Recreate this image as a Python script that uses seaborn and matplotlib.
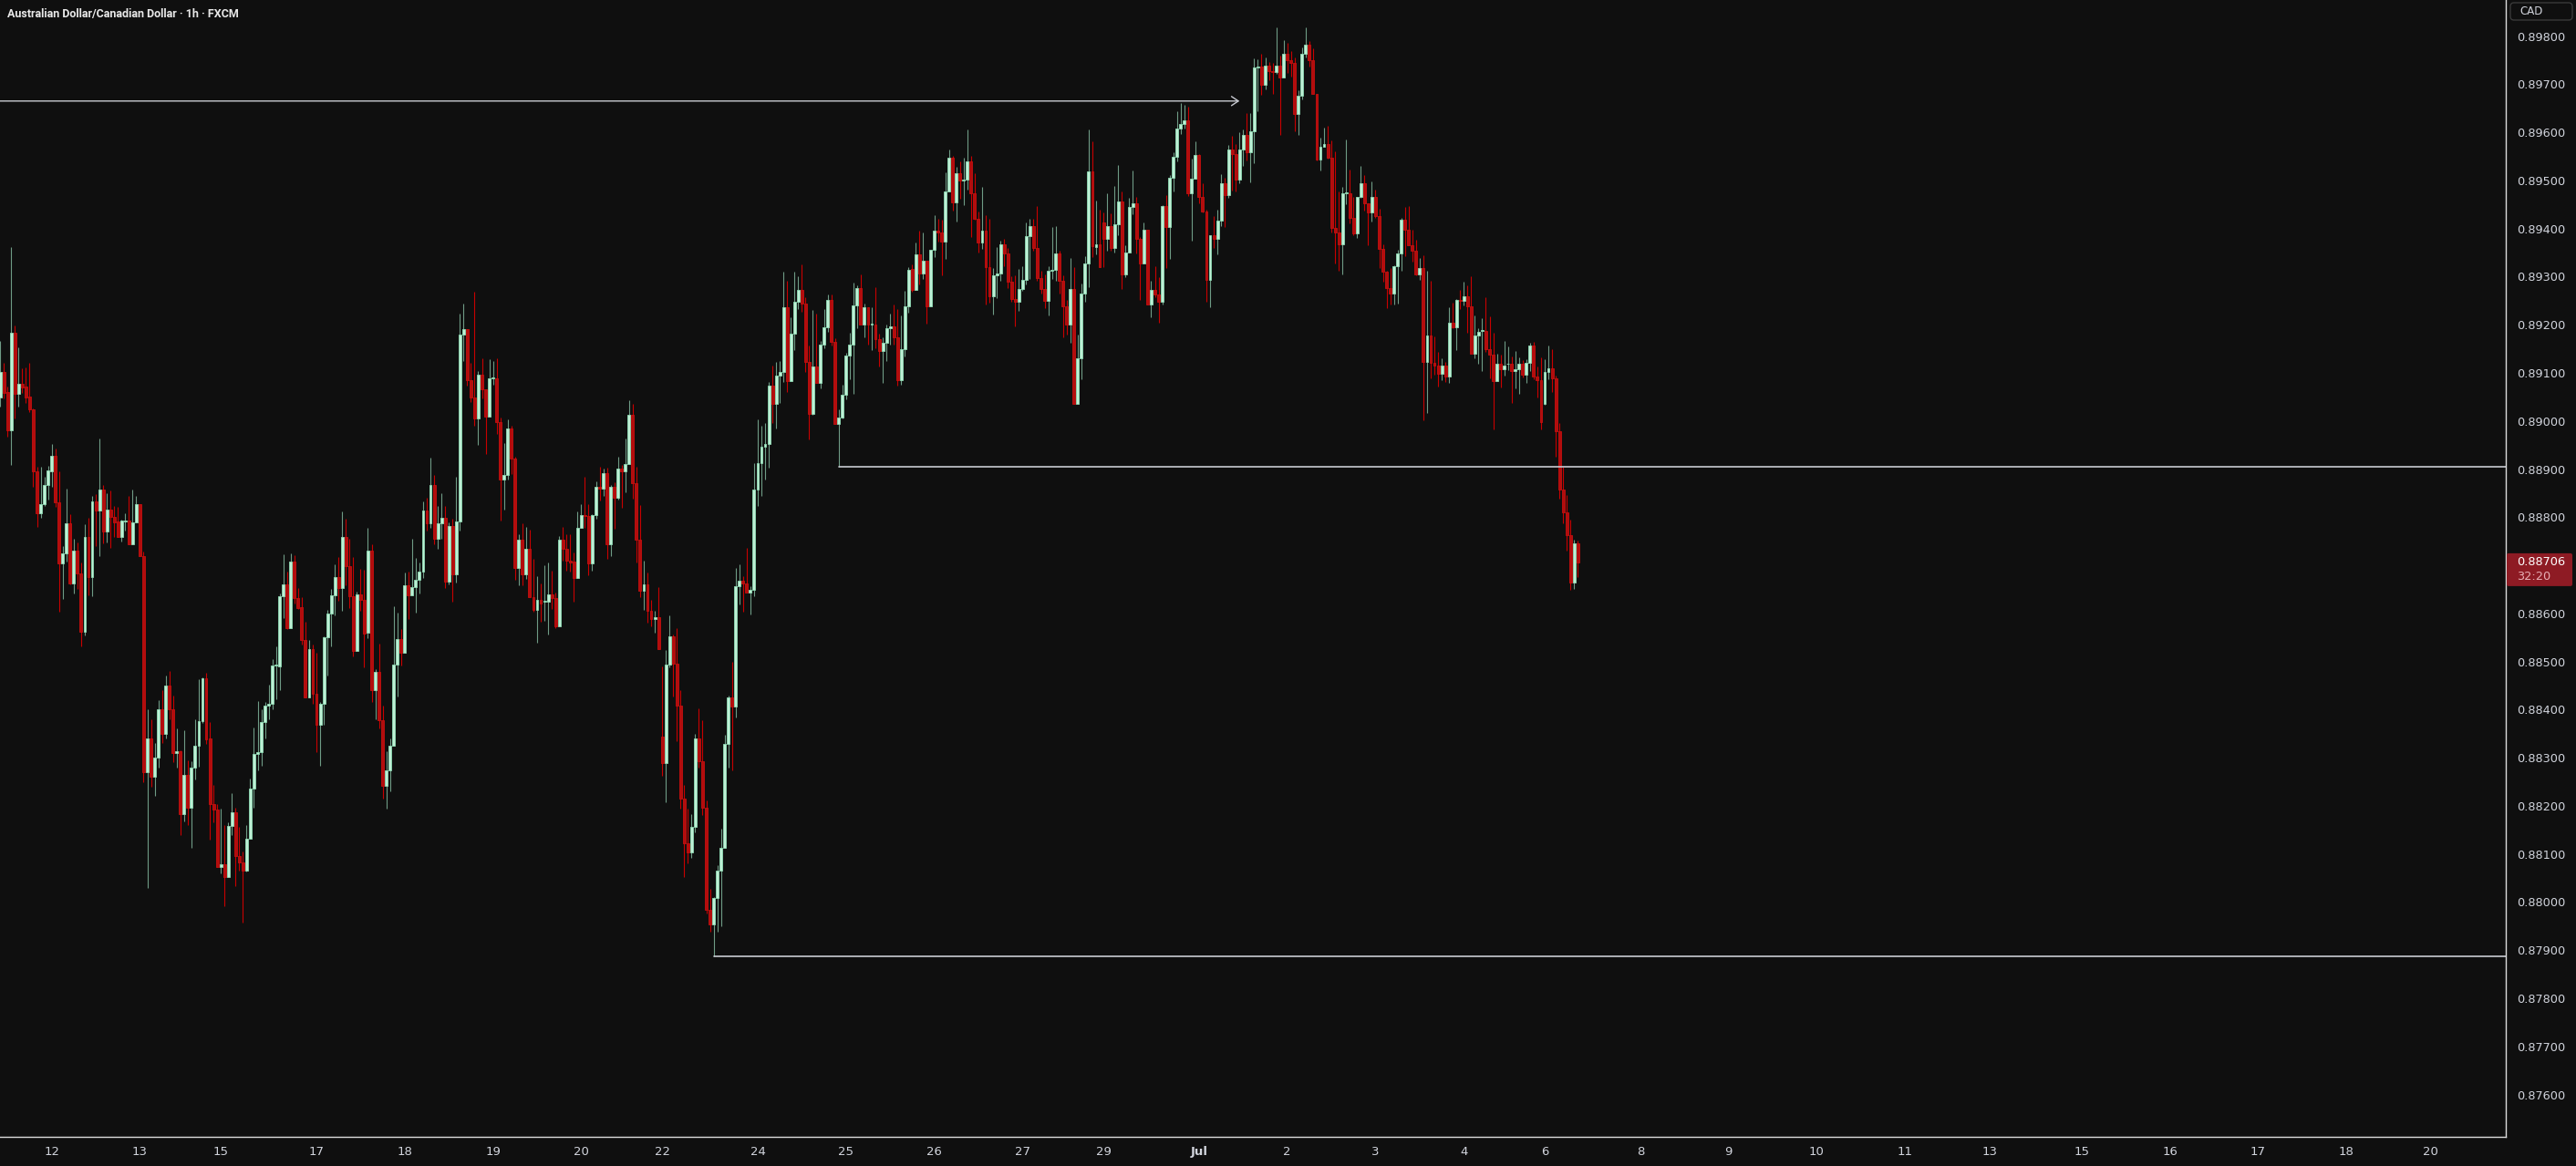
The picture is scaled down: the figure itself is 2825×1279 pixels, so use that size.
import numpy as np
import pandas as pd
import matplotlib
matplotlib.use('Agg')
import matplotlib.pyplot as plt
import matplotlib.transforms as mtransforms
from matplotlib.patches import FancyBboxPatch
import seaborn as sns

# AUD/CAD 1h candles (FXCM), prices in points = price x 1e5
opens = [
    89049, 89101, 89060, 88981, 89184, 89057, 89077, 89071, 89050, 89025,
    88896, 88808, 88827, 88866, 88896, 88928, 88830, 88703, 88724, 88787,
    88662, 88730, 88684, 88561, 88758, 88675, 88833, 88813, 88857, 88770,
    88816, 88800, 88791, 88759, 88791, 88793, 88744, 88789, 88827, 88720,
    88270, 88340, 88260, 88300, 88400, 88350, 88450, 88400, 88310, 88314,
    88183, 88265, 88196, 88279, 88325, 88377, 88466, 88341, 88203, 88192,
    88072, 88079, 88053, 88159, 88187, 88096, 88082, 88065, 88131, 88235,
    88308, 88311, 88374, 88408, 88412, 88492, 88489, 88636, 88661, 88570,
    88708, 88632, 88613, 88545, 88426, 88526, 88433, 88368, 88412, 88551,
    88600, 88637, 88675, 88652, 88759, 88699, 88636, 88522, 88639, 88628,
    88559, 88730, 88440, 88478, 88378, 88242, 88274, 88324, 88494, 88547,
    88518, 88658, 88637, 88654, 88669, 88687, 88814, 88788, 88867, 88755,
    88787, 88798, 88666, 88782, 88682, 88791, 89179, 89190, 89085, 89048,
    89006, 89096, 89065, 89009, 89088, 89088, 88998, 88879, 88888, 88984,
    88922, 88695, 88753, 88682, 88735, 88633, 88607, 88628, 88624, 88624,
    88640, 88631, 88574, 88753, 88735, 88710, 88708, 88673, 88777, 88805,
    88802, 88704, 88805, 88863, 88860, 88891, 88744, 88863, 88841, 88901,
    88895, 88910, 89012, 88870, 88754, 88648, 88660, 88605, 88588, 88592,
    88343, 88289, 88494, 88553, 88495, 88408, 88215, 88122, 88103, 88157,
    88341, 88292, 88196, 87983, 87953, 88008, 88065, 88113, 88329, 88425,
    88406, 88656, 88667, 88663, 88643, 88649, 88857, 88912, 88946, 88953,
    89074, 89035, 89094, 89102, 89237, 89083, 89182, 89247, 89273, 89244,
    89122, 89014, 89113, 89080, 89158, 89195, 89251, 89164, 88993, 89008,
    89054, 89136, 89159, 89241, 89276, 89200, 89237, 89200, 89200, 89170,
    89146, 89163, 89192, 89196, 89173, 89085, 89150, 89239, 89316, 89273,
    89346, 89307, 89333, 89239, 89356, 89395, 89391, 89373, 89477, 89548,
    89455, 89515, 89500, 89502, 89539, 89474, 89420, 89370, 89395, 89320,
    89259, 89302, 89307, 89368, 89348, 89290, 89253, 89247, 89274, 89293,
    89384, 89406, 89360, 89297, 89275, 89250, 89313, 89314, 89348, 89291,
    89239, 89201, 89274, 89035, 89130, 89264, 89327, 89518, 89362, 89367,
    89413, 89379, 89406, 89360, 89409, 89456, 89304, 89350, 89444, 89452,
    89379, 89328, 89397, 89242, 89272, 89262, 89247, 89447, 89403, 89506,
    89549, 89607, 89617, 89624, 89474, 89504, 89552, 89465, 89436, 89293,
    89386, 89379, 89417, 89495, 89469, 89564, 89555, 89502, 89564, 89594,
    89559, 89602, 89734, 89737, 89698, 89739, 89728, 89725, 89738, 89713,
    89763, 89749, 89745, 89638, 89676, 89764, 89783, 89749, 89680, 89543,
    89570, 89575, 89548, 89401, 89391, 89367, 89473, 89474, 89422, 89389,
    89465, 89495, 89452, 89433, 89466, 89425, 89357, 89310, 89277, 89264,
    89322, 89349, 89418, 89397, 89365, 89353, 89305, 89318, 89122, 89177,
    89120, 89115, 89098, 89115, 89093, 89204, 89195, 89251, 89249, 89260,
    89239, 89139, 89178, 89187, 89187, 89150, 89138, 89082, 89119, 89107,
    89118, 89119, 89103, 89107, 89119, 89096, 89121, 89156, 89092, 89084,
    89036, 89101, 89109, 89088, 88979, 88858, 88810, 88763, 88664, 88746,
]
highs = [
    89166, 89120, 89071, 89361, 89198, 89153, 89109, 89111, 89120, 89027,
    88904, 88904, 88883, 88907, 88952, 88942, 88896, 88740, 88859, 88806,
    88755, 88748, 88705, 88786, 88798, 88845, 88847, 88964, 88866, 88850,
    88855, 88823, 88821, 88795, 88808, 88844, 88857, 88845, 88828, 88729,
    88400, 88380, 88330, 88420, 88440, 88470, 88480, 88430, 88360, 88315,
    88358, 88295, 88293, 88380, 88464, 88468, 88476, 88375, 88244, 88204,
    88194, 88160, 88166, 88227, 88197, 88156, 88105, 88161, 88257, 88363,
    88418, 88401, 88416, 88452, 88505, 88532, 88642, 88723, 88687, 88725,
    88721, 88653, 88634, 88583, 88545, 88536, 88519, 88416, 88553, 88608,
    88651, 88702, 88718, 88812, 88797, 88755, 88718, 88646, 88693, 88691,
    88777, 88743, 88485, 88537, 88408, 88313, 88340, 88614, 88601, 88567,
    88685, 88687, 88755, 88715, 88706, 88833, 88840, 88924, 88888, 88824,
    88849, 88824, 88790, 88797, 88884, 89223, 89244, 89190, 89121, 89269,
    89103, 89130, 89065, 89128, 89125, 89130, 89007, 88954, 89003, 88991,
    88926, 88764, 88787, 88779, 88774, 88714, 88677, 88663, 88700, 88706,
    88689, 88644, 88760, 88779, 88764, 88764, 88726, 88812, 88828, 88884,
    88828, 88807, 88874, 88905, 88901, 88903, 88866, 88872, 88926, 88909,
    88963, 89043, 89035, 88905, 88825, 88709, 88685, 88628, 88606, 88654,
    88489, 88524, 88596, 88556, 88569, 88441, 88244, 88194, 88182, 88350,
    88403, 88378, 88212, 88028, 88010, 88076, 88153, 88347, 88430, 88500,
    88695, 88702, 88677, 88737, 88656, 88913, 89003, 88990, 88996, 89081,
    89115, 89123, 89124, 89311, 89292, 89216, 89311, 89301, 89326, 89258,
    89157, 89230, 89224, 89166, 89233, 89262, 89262, 89172, 89024, 89076,
    89141, 89184, 89288, 89282, 89304, 89244, 89237, 89237, 89278, 89181,
    89173, 89200, 89224, 89242, 89233, 89219, 89270, 89319, 89325, 89371,
    89396, 89392, 89333, 89356, 89428, 89420, 89419, 89517, 89564, 89551,
    89528, 89540, 89548, 89605, 89551, 89515, 89436, 89486, 89428, 89420,
    89318, 89361, 89374, 89379, 89360, 89300, 89302, 89316, 89322, 89413,
    89421, 89421, 89447, 89312, 89305, 89322, 89403, 89406, 89354, 89302,
    89252, 89338, 89319, 89179, 89286, 89343, 89605, 89581, 89458, 89439,
    89433, 89473, 89432, 89489, 89532, 89478, 89365, 89463, 89521, 89466,
    89382, 89413, 89397, 89291, 89321, 89299, 89449, 89470, 89511, 89559,
    89643, 89661, 89658, 89654, 89545, 89581, 89555, 89494, 89439, 89387,
    89425, 89439, 89513, 89506, 89574, 89593, 89575, 89601, 89605, 89640,
    89640, 89754, 89751, 89764, 89755, 89747, 89745, 89819, 89759, 89792,
    89785, 89769, 89756, 89687, 89776, 89818, 89790, 89775, 89680, 89589,
    89610, 89614, 89583, 89560, 89477, 89487, 89586, 89523, 89465, 89466,
    89530, 89512, 89452, 89498, 89480, 89442, 89367, 89313, 89317, 89324,
    89355, 89423, 89444, 89447, 89397, 89376, 89338, 89345, 89312, 89292,
    89176, 89143, 89131, 89122, 89237, 89245, 89253, 89272, 89290, 89281,
    89301, 89219, 89193, 89214, 89258, 89217, 89184, 89140, 89138, 89167,
    89154, 89135, 89146, 89132, 89127, 89129, 89163, 89165, 89113, 89132,
    89128, 89157, 89149, 89094, 88996, 88905, 88846, 88794, 88753, 88752,
]
lows = [
    89030, 89047, 88967, 88909, 89005, 89030, 89058, 89038, 89019, 88864,
    88780, 88798, 88823, 88837, 88864, 88822, 88604, 88630, 88708, 88661,
    88642, 88650, 88532, 88555, 88638, 88636, 88740, 88720, 88746, 88748,
    88737, 88759, 88758, 88749, 88773, 88744, 88744, 88789, 88720, 88250,
    88030, 88240, 88220, 88280, 88330, 88340, 88380, 88290, 88280, 88139,
    88167, 88161, 88112, 88255, 88282, 88372, 88328, 88129, 88165, 88072,
    88060, 87992, 88052, 88139, 88033, 88065, 87958, 88063, 88131, 88196,
    88274, 88284, 88341, 88379, 88401, 88421, 88440, 88591, 88568, 88570,
    88620, 88609, 88535, 88426, 88426, 88413, 88312, 88284, 88368, 88470,
    88532, 88595, 88627, 88606, 88658, 88612, 88511, 88522, 88605, 88487,
    88549, 88416, 88380, 88361, 88215, 88195, 88230, 88324, 88427, 88491,
    88518, 88588, 88637, 88601, 88641, 88674, 88772, 88777, 88743, 88735,
    88755, 88653, 88661, 88624, 88664, 88772, 89125, 89074, 89040, 88991,
    88951, 89047, 88931, 89009, 89076, 88973, 88793, 88815, 88878, 88889,
    88670, 88658, 88658, 88672, 88633, 88603, 88540, 88583, 88585, 88557,
    88609, 88569, 88574, 88710, 88689, 88687, 88625, 88673, 88777, 88777,
    88679, 88689, 88797, 88834, 88845, 88714, 88719, 88776, 88837, 88820,
    88851, 88910, 88839, 88706, 88633, 88607, 88580, 88574, 88559, 88525,
    88263, 88207, 88488, 88428, 88334, 88195, 88053, 88080, 88091, 88145,
    88280, 88181, 87977, 87939, 87888, 87939, 87949, 88113, 88279, 88274,
    88384, 88618, 88603, 88643, 88598, 88635, 88823, 88845, 88879, 88902,
    88996, 88985, 89037, 89081, 89060, 89083, 89147, 89233, 89227, 89102,
    88962, 89013, 89079, 89068, 89152, 89186, 89157, 88993, 88905, 89005,
    89045, 89086, 89057, 89193, 89200, 89173, 89158, 89147, 89152, 89113,
    89079, 89124, 89158, 89158, 89074, 89076, 89134, 89225, 89269, 89273,
    89284, 89295, 89202, 89239, 89341, 89372, 89302, 89337, 89477, 89437,
    89415, 89462, 89449, 89481, 89382, 89418, 89351, 89358, 89242, 89245,
    89221, 89256, 89291, 89322, 89277, 89248, 89197, 89228, 89270, 89284,
    89295, 89353, 89292, 89265, 89235, 89220, 89295, 89292, 89264, 89174,
    89180, 89163, 89035, 89035, 89086, 89248, 89279, 89340, 89346, 89319,
    89319, 89354, 89354, 89351, 89387, 89275, 89299, 89350, 89430, 89349,
    89251, 89327, 89242, 89215, 89257, 89204, 89242, 89317, 89336, 89478,
    89539, 89597, 89608, 89468, 89374, 89504, 89453, 89433, 89247, 89236,
    89359, 89346, 89405, 89403, 89463, 89479, 89478, 89494, 89531, 89542,
    89496, 89536, 89644, 89677, 89690, 89708, 89679, 89721, 89595, 89713,
    89723, 89716, 89602, 89595, 89668, 89755, 89737, 89679, 89542, 89521,
    89569, 89545, 89391, 89327, 89312, 89304, 89450, 89411, 89387, 89381,
    89463, 89438, 89365, 89415, 89422, 89317, 89289, 89234, 89242, 89242,
    89244, 89313, 89343, 89365, 89332, 89302, 89294, 89001, 89016, 89089,
    89096, 89071, 89084, 89081, 89079, 89193, 89147, 89233, 89240, 89184,
    89139, 89130, 89118, 89103, 89143, 89089, 88982, 89082, 89070, 89094,
    89105, 89037, 89067, 89056, 89091, 89080, 89104, 89086, 89048, 88982,
    89034, 89087, 89060, 88925, 88838, 88788, 88731, 88649, 88651, 88676,
]
closes = [
    89101, 89058, 88981, 89184, 89057, 89077, 89070, 89049, 89024, 88896,
    88808, 88827, 88866, 88897, 88928, 88830, 88703, 88724, 88787, 88662,
    88730, 88684, 88561, 88758, 88675, 88833, 88813, 88857, 88770, 88816,
    88800, 88790, 88759, 88793, 88793, 88744, 88789, 88827, 88720, 88270,
    88340, 88260, 88300, 88400, 88350, 88450, 88400, 88310, 88314, 88183,
    88265, 88196, 88279, 88325, 88377, 88466, 88339, 88203, 88192, 88072,
    88079, 88053, 88159, 88187, 88096, 88082, 88065, 88131, 88235, 88308,
    88312, 88374, 88408, 88412, 88492, 88492, 88636, 88661, 88570, 88708,
    88631, 88612, 88544, 88426, 88526, 88432, 88368, 88412, 88551, 88600,
    88637, 88675, 88652, 88759, 88699, 88636, 88522, 88639, 88628, 88558,
    88730, 88440, 88478, 88378, 88242, 88274, 88324, 88494, 88547, 88518,
    88658, 88637, 88654, 88669, 88687, 88814, 88788, 88867, 88755, 88787,
    88798, 88666, 88782, 88682, 88791, 89179, 89190, 89085, 89048, 89006,
    89096, 89065, 89009, 89088, 89088, 88998, 88879, 88888, 88984, 88922,
    88695, 88753, 88682, 88735, 88633, 88607, 88628, 88621, 88624, 88640,
    88631, 88574, 88753, 88735, 88710, 88706, 88673, 88777, 88805, 88802,
    88704, 88805, 88863, 88860, 88891, 88744, 88863, 88841, 88901, 88895,
    88910, 89012, 88870, 88754, 88648, 88660, 88605, 88588, 88592, 88526,
    88289, 88494, 88553, 88495, 88408, 88215, 88122, 88103, 88157, 88341,
    88292, 88196, 87983, 87953, 88008, 88065, 88113, 88329, 88426, 88406,
    88656, 88667, 88663, 88643, 88649, 88857, 88912, 88946, 88953, 89074,
    89035, 89094, 89102, 89237, 89083, 89182, 89247, 89273, 89244, 89122,
    89014, 89113, 89080, 89158, 89195, 89251, 89164, 88993, 89008, 89054,
    89136, 89159, 89241, 89276, 89200, 89237, 89200, 89200, 89170, 89146,
    89163, 89192, 89196, 89173, 89085, 89150, 89239, 89315, 89273, 89346,
    89307, 89333, 89239, 89356, 89395, 89391, 89373, 89477, 89548, 89455,
    89515, 89499, 89502, 89539, 89474, 89420, 89370, 89395, 89320, 89259,
    89302, 89307, 89368, 89348, 89290, 89253, 89247, 89274, 89293, 89384,
    89406, 89360, 89297, 89275, 89250, 89313, 89314, 89348, 89291, 89239,
    89201, 89274, 89035, 89130, 89264, 89327, 89518, 89363, 89367, 89319,
    89379, 89406, 89360, 89409, 89456, 89304, 89350, 89444, 89452, 89379,
    89328, 89397, 89242, 89272, 89262, 89247, 89447, 89403, 89506, 89549,
    89607, 89617, 89624, 89474, 89504, 89552, 89465, 89436, 89293, 89386,
    89379, 89417, 89495, 89469, 89564, 89555, 89502, 89564, 89594, 89559,
    89602, 89734, 89737, 89698, 89739, 89728, 89725, 89738, 89713, 89763,
    89749, 89744, 89638, 89676, 89764, 89783, 89749, 89680, 89543, 89570,
    89575, 89548, 89401, 89391, 89367, 89473, 89474, 89422, 89389, 89465,
    89495, 89452, 89433, 89466, 89425, 89357, 89310, 89277, 89264, 89322,
    89349, 89418, 89397, 89365, 89353, 89305, 89318, 89122, 89177, 89120,
    89115, 89098, 89115, 89093, 89204, 89195, 89251, 89250, 89260, 89238,
    89139, 89178, 89186, 89187, 89150, 89138, 89082, 89119, 89107, 89116,
    89119, 89103, 89107, 89119, 89096, 89121, 89156, 89092, 89084, 88998,
    89101, 89109, 89088, 88979, 88858, 88810, 88763, 88664, 88746, 88706,
]

# date labels on the time axis (bar index where the label sits)
day_ticks = [14, 38, 60, 86, 110, 134, 158, 180, 206, 230, 254, 278, 300, 326,
             350, 374, 398, 420, 446, 470, 494, 518, 541, 566, 590, 614, 638, 661]
day_labels = ["12", "13", "15", "17", "18", "19", "20", "22", "24", "25", "26", "27", "29", "Jul",
              "2", "3", "4", "6", "8", "9", "10", "11", "13", "15", "16", "17", "18", "20"]

price_ticks = [0.876, 0.877, 0.878, 0.879, 0.880, 0.881, 0.882, 0.883, 0.884, 0.885, 0.886,
               0.887, 0.888, 0.889, 0.890, 0.891, 0.892, 0.893, 0.894, 0.895, 0.896, 0.897, 0.898]

current_price = 0.88706
countdown = "32:20"
title = "Australian Dollar/Canadian Dollar \u00b7 1h \u00b7 FXCM"

# drawn levels: (price, first bar)
arrow_level, arrow_end_bar = 0.89665, 337
mid_level, mid_start_bar = 0.88905, 228
low_level, low_start_bar = 0.87888, 194

# --- colours ---
BG = '#0f0f0f'
TXT = '#d1d4dc'
LINE = '#c9cbd2'
BULL_FACE, BULL_EDGE, BULL_WICK = '#bff0d6', '#8fdcb5', '#6f9c86'
BEAR_FACE, BEAR_EDGE, BEAR_WICK = '#b20d0d', '#c80f0f', '#c80000'

df = pd.DataFrame({'open': opens, 'high': highs, 'low': lows, 'close': closes}) / 1e5
df['bar'] = np.arange(len(df))
df['up'] = df['close'] >= df['open']

sns.set_theme(style='dark', rc={'axes.facecolor': BG, 'figure.facecolor': BG})
plt.rcParams['font.family'] = ['DejaVu Sans']

W, H = 2825, 1279
fig = plt.figure(figsize=(W / 100, H / 100), dpi=100)
ax = fig.add_axes([0, 32 / H, 2748 / W, 1247 / H])
ax.set_facecolor(BG)

x_left, x_right = -0.05, 681.35
ax.set_xlim(x_left, x_right)
ax.set_ylim(0.87512, 0.89875)

# candles
min_body = 0.000018
for up, face, edge, wick in [(True, BULL_FACE, BULL_EDGE, BULL_WICK),
                             (False, BEAR_FACE, BEAR_EDGE, BEAR_WICK)]:
    d = df[df['up'] == up]
    ax.vlines(d['bar'], d['low'], d['high'], color=wick, linewidth=0.8, zorder=2)
    lo = d[['open', 'close']].min(axis=1)
    hgt = (d['close'] - d['open']).abs().clip(lower=min_body)
    ax.bar(d['bar'], hgt, bottom=lo, width=0.72, color=face, edgecolor=edge,
           linewidth=0.6, zorder=3)

# horizontal levels
levels = pd.DataFrame({
    'bar': [mid_start_bar, x_right, low_start_bar, x_right],
    'price': [mid_level, mid_level, low_level, low_level],
    'name': ['mid', 'mid', 'low', 'low'],
})
sns.lineplot(data=levels, x='bar', y='price', units='name', estimator=None,
             color=LINE, linewidth=1.2, ax=ax, legend=False, zorder=4)
ax.annotate('', xy=(arrow_end_bar, arrow_level), xytext=(x_left, arrow_level),
            arrowprops=dict(arrowstyle='->,head_length=0.45,head_width=0.3',
                            color=LINE, lw=1.0, shrinkA=0, shrinkB=0), zorder=4)

# axes styling
ax.grid(False)
for s in ['top', 'left']:
    ax.spines[s].set_visible(False)
for s in ['right', 'bottom']:
    ax.spines[s].set_color('#dcdcdc')
    ax.spines[s].set_linewidth(1.0)
ax.set_xlabel('')
ax.set_ylabel('')

ax.yaxis.tick_right()
ax.set_yticks(price_ticks)
ax.set_yticklabels([f'{p:.5f}' for p in price_ticks])
ax.tick_params(axis='y', length=0, pad=8.6, labelsize=9.3, labelcolor=TXT)

ax.set_xticks(day_ticks)
ax.set_xticklabels(day_labels)
ax.tick_params(axis='x', length=0, pad=7.5, labelsize=9.5, labelcolor=TXT)
for lbl in ax.get_xticklabels():
    if lbl.get_text() == 'Jul':
        lbl.set_fontweight('bold')

# title
fig.text(8 / W, 1 - 16 / H, title, color='#e8e8e8', fontsize=9, fontweight='bold',
         family=['Roboto', 'DejaVu Sans'], ha='left', va='center')

# currency box on price scale
px = mtransforms.IdentityTransform()
cad_box = FancyBboxPatch((2753, H - 22), 68, 19, boxstyle='round,pad=0,rounding_size=4',
                         transform=px, facecolor=BG, edgecolor='#3a3a3a', linewidth=1.0)
fig.add_artist(cad_box)
fig.text(2763 / W, 1 - 12.5 / H, 'CAD', color=TXT, fontsize=8.5, ha='left', va='center')

# last price label
y_px = ax.transData.transform((0, current_price))[1]
price_box = FancyBboxPatch((2749, y_px - 26), 72, 36, boxstyle='round,pad=0,rounding_size=2',
                           transform=px, facecolor='#8e1b24', edgecolor='none')
fig.add_artist(price_box)
fig.text(2760 / W, y_px / H, f'{current_price:.5f}', color='#ffffff', fontsize=9.3,
         ha='left', va='center')
fig.text(2760 / W, (y_px - 16) / H, countdown, color='#e8b0b5', fontsize=9.3,
         ha='left', va='center')

fig.savefig('out.png', dpi=100, facecolor=BG)
plt.close(fig)
